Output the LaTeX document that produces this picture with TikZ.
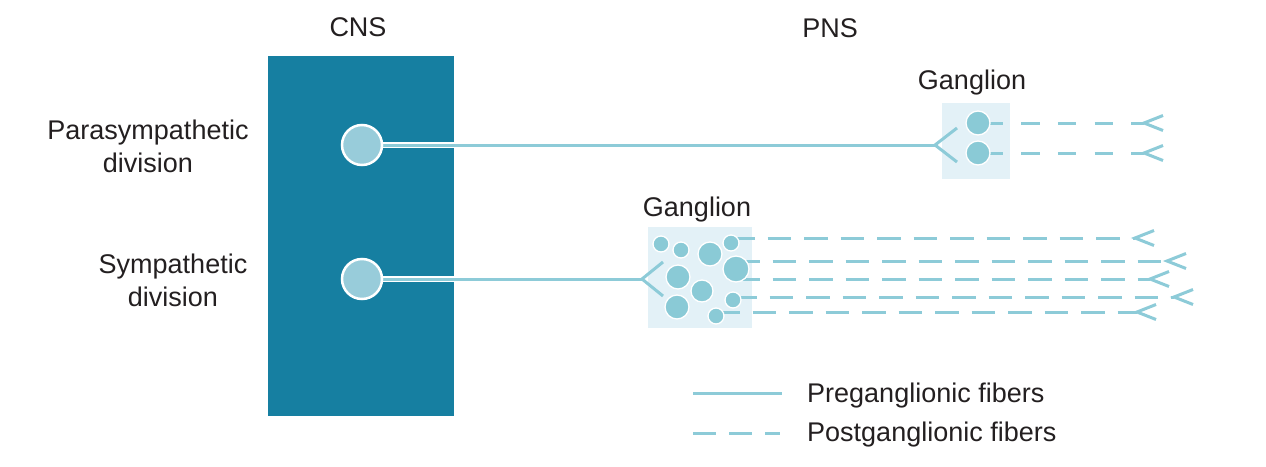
\documentclass[tikz,border=0pt]{standalone}
\usepackage{fontspec}
\setmainfont{Liberation Sans}
\definecolor{cnsblue}{HTML}{167FA1}
\definecolor{fiber}{HTML}{8DCBD8}
\definecolor{cellfill}{HTML}{8ACAD6}
\definecolor{somafill}{HTML}{98CCDA}
\definecolor{gangbg}{HTML}{E3F1F7}
\definecolor{ink}{HTML}{231F20}

\pgfdeclarelayer{back}
\pgfdeclarelayer{fibers}
\pgfsetlayers{back,fibers,main}

\tikzstyle{every node}=[inner sep=0pt, text=ink, font={\fontsize{27}{33}\selectfont}]
\tikzstyle{soma}=[circle, fill=somafill, draw=white, line width=2.5pt, minimum size=40pt]
\tikzstyle{cell}=[circle, fill=cellfill, draw=white, line width=1.3pt]
\tikzstyle{pre}=[draw=fiber, line width=3pt]
\tikzstyle{prebody}=[draw=white, line width=1.8pt, double=fiber, double distance=3pt]
\tikzstyle{post}=[draw=fiber, line width=3pt, dash pattern=on 23.5pt off 13pt]
\tikzstyle{postpara}=[post, dash pattern=on 18.5pt off 18.2pt, dash phase=30.2pt]
\tikzstyle{tip}=[draw=fiber, line width=3pt]

\begin{document}
\begin{tikzpicture}[x=1pt, y=-1pt]
    \useasboundingbox (0,0) rectangle (1266,466);

    % neurons
    \node[soma] (pc) at (362,145) {};
    \node[soma] (sc) at (362,279) {};
    \node[cell, minimum size=24pt] (p1) at (978,123) {};
    \node[cell, minimum size=24pt] (p2) at (978,153) {};
    \foreach \n/\x/\y/\rad in {1/661/244/8, 2/681/250/8, 3/710/254/12, 4/731/243/8,
        5/736/269/13, 6/678/277/12, 7/702/291/11, 8/733/300/8, 9/677/307/12, 10/716/316/8}
        \node[cell, minimum size=\rad*2pt] (c\n) at (\x,\y) {};

    % branch and fiber ends
    \coordinate (pv) at (935,145);
    \coordinate (pb1) at (957,128);
    \coordinate (pb2) at (957,162);
    \coordinate (sv) at (642,279);
    \coordinate (sb1) at (663,262);
    \coordinate (sb2) at (663,296);
    \coordinate (e1) at (1135,238);
    \coordinate (e2) at (1167,261);
    \coordinate (e3) at (1150,279);
    \coordinate (e4) at (1174,297);
    \coordinate (e5) at (1137,312);
    \coordinate (e6) at (1144,123);
    \coordinate (e7) at (1144,153);

    \begin{pgfonlayer}{back}
        \fill[cnsblue] (268,56) rectangle (454,416);
        \fill[gangbg] (942,103) rectangle (1010,179);
        \fill[gangbg] (648,227) rectangle (752,328);
    \end{pgfonlayer}

    \begin{pgfonlayer}{fibers}
        % preganglionic
        \draw[prebody] (pc.center) -- (pv);
        \draw[prebody] (sc.center) -- (sv);
        \draw[pre] (pb1) -- (pv) -- (pb2);
        \draw[pre] (sb1) -- (sv) -- (sb2);
        % postganglionic
        \foreach \e/\c in {1/4, 2/5, 3/5, 4/8, 5/10}
            \draw[post] (c\c.center |- e\e) -- (e\e);
        \draw[postpara] (p1.center) -- (e6);
        \draw[postpara] (p2.center) -- (e7);
        \foreach \e in {1,...,7}
            \draw[tip] ([xshift=19pt, yshift=7.5pt]e\e) -- (e\e) -- ([xshift=19pt, yshift=-7.5pt]e\e);
    \end{pgfonlayer}

    % labels
    \node[anchor=base] (cnslbl) at (358,36) {CNS};
    \node[anchor=base] (pnslbl) at (830,37) {PNS};
    \node[anchor=base] (pglbl) at (972,89) {Ganglion};
    \node[anchor=base] (sglbl) at (697,216) {Ganglion};
    \node[align=center] (paralbl) at (148,146) {Parasympathetic\\division};
    \node[align=center] (symlbl) at (173,280) {Sympathetic\\division};

    % legend
    \coordinate (l1a) at (693,393);
    \coordinate (l1b) at (782,393);
    \coordinate (l2a) at (693,433);
    \coordinate (l2b) at (780,433);
    \draw[pre] (l1a) -- (l1b);
    \draw[post, dash pattern=on 23pt off 13pt] (l2a) -- (l2b);
    \node[anchor=base west] (prelbl) at (807,402) {Preganglionic fibers};
    \node[anchor=base west] (postlbl) at (807,441) {Postganglionic fibers};
\end{tikzpicture}
\end{document}
